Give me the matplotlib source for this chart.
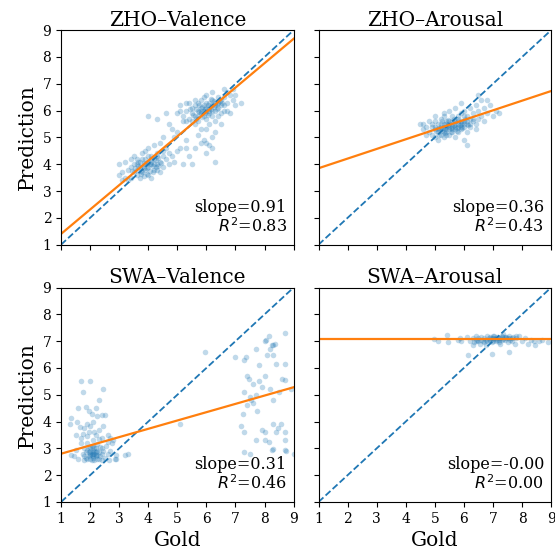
import numpy as np
import matplotlib
matplotlib.use("Agg")
import matplotlib.pyplot as plt

plt.rcParams["font.family"] = "DejaVu Serif"

# ---- data ----
titles = ["ZHO\u2013Valence", "ZHO\u2013Arousal", "SWA\u2013Valence", "SWA\u2013Arousal"]
slopes = [0.91, 0.36, 0.31, -0.00]
intercepts = [0.49, 3.49, 2.49, 7.08]
r2 = [0.83, 0.43, 0.46, 0.00]

zho_val = [
    (3.0, 3.6), (3.1, 3.7), (3.2, 3.5), (3.3, 3.8), (3.4, 3.9), (3.5, 3.7), (3.5, 4.0), (3.6, 3.8), (3.6, 3.6), (3.7, 4.1),
    (3.7, 3.9), (3.8, 3.7), (3.8, 4.2), (3.9, 4.0), (3.9, 3.8), (4.0, 4.1), (4.0, 3.9), (4.0, 3.6), (4.1, 4.3), (4.1, 4.0),
    (4.2, 3.8), (4.2, 4.2), (4.3, 4.4), (4.3, 4.0), (4.4, 4.1), (4.4, 3.7), (4.5, 4.3), (4.5, 4.5), (4.6, 4.2), (4.7, 4.0),
    (3.4, 3.5), (3.6, 4.2), (3.8, 4.4), (3.9, 4.5), (4.0, 4.6), (4.2, 4.7), (4.1, 3.5), (3.7, 3.5), (3.3, 3.4), (3.2, 4.1),
    (3.5, 4.3), (4.3, 3.8), (4.6, 4.6), (4.8, 4.3), (4.9, 4.1), (4.4, 4.8), (3.0, 4.0), (3.1, 3.4), (3.9, 4.2), (4.1, 4.1),
    (3.8, 3.9), (4.0, 4.3), (4.2, 4.0), (3.6, 4.0), (4.5, 3.9), (3.4, 4.2), (4.7, 4.4), (3.95, 3.85), (4.05, 4.0), (3.85, 4.05),
    (3.55, 3.85), (3.65, 3.95), (3.75, 3.75), (3.85, 3.85), (3.95, 4.05), (4.05, 3.75), (4.15, 3.95), (4.25, 4.15), (4.35, 4.25), (4.45, 4.05),
    (3.75, 3.65), (3.85, 3.55), (3.95, 3.65), (4.15, 3.7), (4.25, 3.9), (4.35, 3.95), (3.45, 3.75), (3.65, 4.1), (4.1, 4.2), (4.3, 4.3),
    (4.0, 5.8), (4.3, 5.7), (4.6, 5.9), (4.8, 5.3), (5.0, 4.5), (5.1, 4.6), (5.2, 4.0), (5.3, 4.9), (5.4, 4.3), (5.5, 4.0),
    (4.9, 5.0), (5.0, 5.2), (4.5, 5.0), (5.6, 4.6), (5.2, 5.6), (5.8, 4.8), (6.0, 4.4), (6.1, 4.7), (6.3, 4.1), (6.2, 4.6),
    (5.7, 5.1), (4.7, 5.5), (5.3, 6.3), (5.1, 6.0), (5.3, 4.6), (6.0, 4.8), (6.2, 5.0), (5.9, 4.9),
    (5.2, 5.8), (5.3, 6.0), (5.4, 5.7), (5.5, 6.1), (5.5, 5.9), (5.6, 6.2), (5.6, 5.8), (5.7, 6.0), (5.7, 6.3), (5.8, 5.9),
    (5.8, 6.1), (5.9, 6.2), (5.9, 5.8), (6.0, 6.0), (6.0, 6.3), (6.0, 5.7), (6.1, 6.1), (6.1, 5.9), (6.2, 6.2), (6.2, 6.4),
    (6.3, 6.0), (6.3, 6.3), (6.4, 6.1), (6.4, 6.5), (6.5, 6.2), (6.5, 6.4), (6.6, 6.0), (6.6, 6.5), (6.7, 6.3), (6.8, 6.6),
    (5.3, 5.6), (5.4, 6.3), (5.6, 5.5), (5.7, 5.6), (5.8, 6.4), (5.9, 6.5), (6.0, 6.6), (6.1, 5.5), (6.2, 5.8), (6.3, 5.6),
    (6.4, 5.8), (6.5, 5.9), (6.7, 6.7), (6.9, 6.4), (7.0, 6.6), (7.0, 6.2), (7.2, 6.3), (6.9, 6.8), (6.6, 6.8), (6.2, 6.7),
    (5.6, 6.4), (5.1, 6.2), (5.0, 5.9), (5.8, 5.3), (6.0, 5.3), (6.3, 5.2), (6.5, 5.5), (6.8, 5.9), (6.1, 6.0), (5.9, 6.0),
    (6.0, 6.1), (6.2, 6.0), (5.8, 6.0), (6.4, 6.3), (5.7, 5.8), (6.1, 6.3), (6.3, 6.2), (5.5, 5.6), (6.6, 6.2), (6.7, 6.0),
    (5.65, 6.05), (5.75, 5.95), (5.85, 6.15), (5.95, 6.05), (6.05, 6.2), (6.15, 6.05), (6.25, 6.15), (6.35, 6.25), (5.55, 5.85), (5.65, 5.7),
    (5.85, 5.75), (6.05, 5.85), (6.25, 6.35), (6.45, 6.35), (6.55, 6.3), (5.45, 6.05), (5.75, 6.2), (6.15, 6.45), (5.95, 5.9), (6.35, 6.05),
]

zho_aro = [
    (4.5, 5.5), (4.6, 5.3), (4.7, 5.4), (4.8, 5.2), (4.8, 5.6), (4.9, 5.1), (4.9, 5.4), (5.0, 5.3), (5.0, 5.0), (5.0, 5.6),
    (5.1, 5.2), (5.1, 5.5), (5.1, 4.9), (5.2, 5.3), (5.2, 5.7), (5.2, 5.1), (5.3, 5.4), (5.3, 5.0), (5.3, 5.8), (5.4, 5.2),
    (5.4, 5.5), (5.4, 5.3), (5.5, 5.1), (5.5, 5.6), (5.5, 5.4), (5.6, 5.2), (5.6, 5.5), (5.6, 5.8), (5.7, 5.3), (5.7, 5.6),
    (5.7, 5.0), (5.8, 5.4), (5.8, 5.7), (5.8, 5.2), (5.9, 5.5), (5.9, 5.9), (5.9, 5.3), (6.0, 5.6), (6.0, 5.4), (6.0, 6.0),
    (6.1, 5.5), (6.1, 5.8), (6.1, 5.2), (6.2, 5.7), (6.2, 5.4), (6.2, 6.1), (6.3, 5.6), (6.3, 5.9), (6.4, 5.5), (6.4, 6.2),
    (6.5, 5.7), (6.5, 6.0), (6.6, 5.8), (6.6, 6.4), (6.7, 5.6), (6.7, 6.1), (6.8, 5.9), (6.9, 6.2), (7.0, 5.8), (7.1, 6.0),
    (5.0, 5.4), (5.2, 5.5), (5.4, 5.6), (5.6, 5.4), (5.8, 5.5), (6.0, 5.8), (5.5, 5.3), (5.7, 5.5), (5.9, 5.6), (6.1, 5.6),
    (5.3, 5.2), (5.1, 5.3), (4.9, 5.5), (5.6, 5.6), (5.8, 5.6), (6.0, 5.5), (5.4, 5.4), (5.6, 5.3), (5.2, 5.4), (6.3, 5.7),
    (4.6, 5.5), (4.7, 5.1), (5.0, 5.8), (5.3, 5.9), (5.5, 6.0), (5.7, 6.1), (6.0, 4.9), (6.4, 5.3), (6.8, 6.4), (7.2, 5.9),
    (6.1, 4.7), (6.5, 6.6), (5.9, 6.3), (5.5, 5.5), (5.7, 5.4), (5.4, 5.1), (5.9, 5.4), (6.2, 5.5), (5.3, 5.5), (5.8, 5.8),
    (5.05, 5.25), (5.15, 5.35), (5.25, 5.25), (5.35, 5.35), (5.45, 5.45), (5.55, 5.35), (5.65, 5.45), (5.75, 5.35), (5.85, 5.45), (5.95, 5.55),
    (5.15, 5.1), (5.35, 5.15), (5.55, 5.2), (5.75, 5.25), (5.95, 5.35), (6.15, 5.45), (5.25, 5.6), (5.45, 5.65), (5.65, 5.7), (6.05, 5.7),
]

swa_val = [
    (1.35, 4.15), (1.3, 3.9), (1.6, 4.5), (1.7, 5.5), (2.0, 5.5), (1.75, 5.1), (2.45, 5.2), (2.3, 4.8), (2.4, 4.25), (2.2, 4.5),
    (1.85, 4.55), (1.95, 4.4), (2.05, 4.3), (2.25, 4.2), (1.55, 4.0), (1.9, 3.9), (2.1, 4.0), (2.5, 4.25), (1.65, 3.8), (1.8, 3.75),
    (2.0, 3.85), (2.15, 3.6), (2.3, 3.7), (2.45, 3.85), (1.5, 3.5), (1.7, 3.4), (1.95, 3.6), (2.6, 3.5), (2.7, 3.4), (2.8, 3.3),
    (1.35, 2.75), (1.45, 2.7), (1.5, 2.95), (1.6, 2.6), (1.7, 3.2), (1.75, 2.8), (1.8, 3.0), (1.85, 2.65), (1.9, 3.2), (1.95, 2.85),
    (2.0, 2.6), (2.0, 3.05), (2.05, 2.75), (2.1, 2.9), (2.1, 3.3), (2.15, 2.55), (2.15, 2.8), (2.2, 3.0), (2.2, 2.7), (2.25, 3.15),
    (2.25, 2.6), (2.3, 2.85), (2.3, 3.35), (2.35, 2.7), (2.4, 3.0), (2.4, 2.55), (2.45, 2.9), (2.5, 2.65), (2.55, 3.1), (2.6, 2.8),
    (2.65, 2.55), (2.7, 2.9), (2.75, 3.2), (2.85, 2.6), (2.9, 2.75), (1.9, 2.95), (2.0, 2.75), (2.05, 3.1), (2.1, 2.65), (2.15, 3.0),
    (2.2, 2.85), (2.25, 2.9), (2.0, 2.9), (1.95, 2.7), (2.1, 2.8), (2.3, 2.6), (1.85, 2.85), (2.35, 3.05), (2.05, 2.55), (1.8, 2.55),
    (2.2, 3.5), (1.9, 3.45), (2.4, 3.4), (1.75, 3.55), (2.6, 3.25), (3.2, 2.75), (3.3, 2.8), (2.9, 2.6), (5.1, 3.9), (2.0, 2.8),
    (2.1, 2.7), (2.2, 2.75), (1.95, 3.0), (2.15, 2.9), (2.05, 2.85), (1.8, 2.7), (2.25, 2.75), (2.1, 3.1), (1.9, 2.6), (2.4, 2.8),
    (5.95, 6.6), (7.0, 6.4), (7.3, 6.3), (7.35, 6.4), (7.4, 5.7), (7.45, 5.6), (7.3, 5.1), (7.5, 4.9), (7.4, 4.6), (7.6, 4.7),
    (7.55, 4.8), (7.7, 5.0), (7.7, 6.7), (7.8, 6.1), (7.8, 5.5), (7.9, 5.3), (8.0, 7.0), (8.05, 7.05), (8.1, 6.5), (8.15, 7.2),
    (8.2, 6.7), (8.25, 6.85), (8.3, 6.85), (8.35, 6.9), (8.4, 6.15), (8.3, 6.5), (8.0, 5.7), (8.2, 5.2), (8.3, 4.8), (8.5, 5.1),
    (8.6, 5.6), (8.7, 5.55), (8.7, 6.15), (8.7, 7.3), (7.2, 3.85), (7.3, 3.6), (7.25, 4.3), (7.75, 4.4), (7.9, 3.7), (8.0, 3.3),
    (8.15, 3.25), (8.3, 3.9), (8.4, 3.6), (8.45, 3.75), (8.55, 3.9), (8.7, 3.6), (8.7, 3.3), (8.7, 2.95), (8.75, 2.9), (8.25, 2.95),
    (8.3, 2.98), (7.5, 2.8), (7.3, 2.85), (8.0, 3.6), (7.7, 3.3), (9.0, 2.8), (8.9, 5.2), (7.6, 5.4),
]

swa_aro = [
    (4.97, 7.09), (5.43, 7.24), (5.45, 6.95), (5.85, 7.1), (5.9, 7.0), (6.15, 6.5), (6.1, 7.15), (6.2, 7.0), (6.3, 7.1), (6.35, 6.95),
    (6.4, 7.2), (6.45, 7.05), (6.5, 7.1), (6.55, 6.9), (6.6, 7.15), (6.65, 7.0), (6.7, 7.1), (6.75, 6.85), (6.8, 7.2), (6.85, 7.05),
    (6.9, 7.15), (6.95, 6.95), (7.0, 7.1), (7.05, 7.2), (7.1, 7.0), (7.15, 7.15), (7.2, 7.05), (7.25, 6.9), (7.3, 7.15), (7.35, 7.25),
    (7.4, 7.05), (7.45, 7.1), (7.5, 6.95), (7.55, 7.2), (7.6, 7.1), (7.65, 7.0), (7.7, 7.15), (7.75, 6.9), (7.8, 7.1), (7.9, 7.2),
    (8.0, 7.0), (8.1, 7.1), (8.2, 6.9), (8.3, 7.05), (8.4, 7.0), (8.6, 7.0), (8.45, 6.85), (6.97, 6.53), (7.55, 6.6), (6.5, 7.0),
    (6.8, 7.0), (7.0, 7.0), (7.2, 7.1), (7.4, 7.15), (7.1, 7.1), (6.9, 7.05), (6.6, 7.05), (7.3, 7.05), (7.6, 7.05), (6.4, 7.0),
    (7.0, 7.2), (7.2, 6.95), (6.7, 6.95), (8.7, 7.05), (8.9, 6.95), (5.1, 7.0), (5.8, 7.05), (7.3, 7.2), (7.8, 7.2), (6.3, 6.85),
    (6.95, 7.12), (7.05, 7.08), (7.15, 7.05), (7.25, 7.12), (7.35, 7.08), (7.45, 7.15), (6.85, 7.1), (6.75, 7.05), (7.65, 7.12), (7.5, 7.1),
]

panels = [zho_val, zho_aro, swa_val, swa_aro]

fig, axes = plt.subplots(2, 2, figsize=(5.55, 5.59), dpi=100, sharex=True, sharey=True)
fig.subplots_adjust(left=0.110, right=0.993, top=0.946, bottom=0.102, wspace=0.107, hspace=0.20)

for ax, pts, title, m, b, r in zip(axes.flat, panels, titles, slopes, intercepts, r2):
    pts = np.array(pts)
    ax.scatter(pts[:, 0], pts[:, 1], s=16, color="tab:blue", alpha=0.28, linewidths=0)
    ax.plot([1, 9], [1, 9], "--", color="tab:blue", lw=1.3)
    xs = np.array([1, 9])
    ax.plot(xs, m * xs + b, color="tab:orange", lw=1.6)
    ax.set_xlim(1, 9)
    ax.set_ylim(1, 9)
    ax.set_xticks(range(1, 10))
    ax.set_yticks(range(1, 10))
    ax.tick_params(labelsize=10)
    ax.set_title(title, fontsize=14.5, pad=3)
    ax.text(0.97, 0.04, f"slope={m:.2f}\n$R^2$={r:.2f}", transform=ax.transAxes,
            ha="right", va="bottom", fontsize=11.5, linespacing=1.1)

for ax in axes[:, 0]:
    ax.set_ylabel("Prediction", fontsize=14.5)
for ax in axes[1, :]:
    ax.set_xlabel("Gold", fontsize=14.5)

fig.savefig("out.png", dpi=100)
